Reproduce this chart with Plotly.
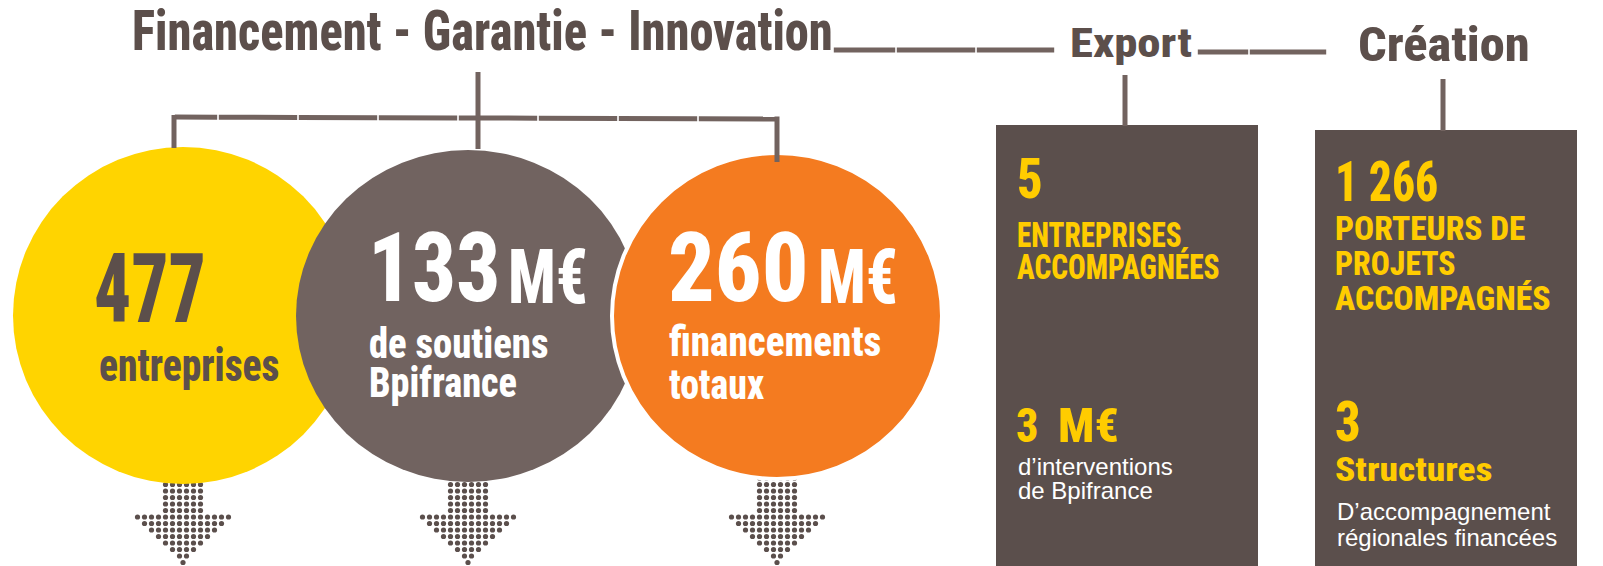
import json
import plotly.graph_objects as go

# ---------------- data ----------------
section_titles = ["Financement - Garantie - Innovation", "Export", "Création"]
circle_values = [477, 133, 260]
circle_units = ["", "M€", "M€"]
circle_labels = [["entreprises"], ["de soutiens", "Bpifrance"], ["financements", "totaux"]]
export_values = [5, 3]
export_units = ["", "M€"]
export_labels = [["ENTREPRISES", "ACCOMPAGNÉES"], ["d’interventions", "de Bpifrance"]]
creation_values = [1266, 3]
creation_labels = [["PORTEURS DE", "PROJETS", "ACCOMPAGNÉS"], ["Structures"]]
creation_sub = ["D’accompagnement", "régionales financées"]
arrow_rows = [14, 12, 10, 8, 6, 4, 2, 1]

# ---------------- styles ----------------
W, H = 1603, 566
COND = "Noto Sans ExtraCondensed, Noto Sans Condensed, Roboto Condensed, Noto Sans, sans-serif"
REG = "Liberation Sans, Arial, sans-serif"
DARK = "#5C4F4B"
LINE = "#72635F"
BOX = "#5B4F4C"
YEL = "#FFCC00"
circle_colors = ["#FFD400", "#716360", "#F47B20"]
circles = [(183, 315.5, 170, 168.5), (468, 316, 172, 166), (777, 316, 165, 163)]
circle_text_colors = [DARK, "white", "white"]

fig = go.Figure()
shapes = []
ann = []
xscale = []


def fmt(v, sep=" "):
    return f"{v:,}".replace(",", sep)


def text(x, baseline, s, size, color, family=COND, bold=True, sx=1.0):
    k = 0.388 if family == COND else 0.35
    ann.append(dict(x=x, y=baseline - k * size, xref="x", yref="y", text=s,
                    showarrow=False, xanchor="left", yanchor="middle", align="left",
                    font=dict(family=family, size=size, color=color,
                              weight=800 if bold else "normal")))
    xscale.append(sx)


# dotted arrows below circles
for (cx, cy, rx, ry) in circles:
    xs, ys = [], []
    sp, vs = 7.0, 6.5
    y = 478
    for r in range(6):
        for c in range(6):
            xs.append(cx + (c - 2.5) * sp)
            ys.append(y)
        y += vs
    for n in arrow_rows:
        for c in range(n):
            xs.append(cx + (c - (n - 1) / 2) * sp)
            ys.append(y)
        y += vs
    fig.add_trace(go.Scatter(x=xs, y=ys, mode="markers",
                             marker=dict(size=5.2, color=BOX, line=dict(width=0)),
                             hoverinfo="skip", showlegend=False))

# circles
for i, (cx, cy, rx, ry) in enumerate(circles):
    shapes.append(dict(type="circle", xref="x", yref="y", layer="above",
                       x0=cx - rx, x1=cx + rx, y0=cy - ry, y1=cy + ry,
                       fillcolor=circle_colors[i],
                       line=dict(color="white", width=4 if i == 2 else 0)))

# boxes
boxes = [(996, 1258, 125), (1315, 1577, 130)]
for (x0, x1, y0) in boxes:
    shapes.append(dict(type="rect", xref="x", yref="y", layer="above",
                       x0=x0, x1=x1, y0=y0, y1=H + 10, fillcolor=BOX, line=dict(width=0)))


def seg_line(pts_x, y0, y1):
    for a, b in zip(pts_x[:-1], pts_x[1:]):
        t0 = (a - pts_x[0]) / (pts_x[-1] - pts_x[0])
        t1 = (b - pts_x[0]) / (pts_x[-1] - pts_x[0])
        shapes.append(dict(type="line", xref="x", yref="y", layer="above",
                           x0=a + 0.8, x1=b - 0.8,
                           y0=y0 + (y1 - y0) * t0, y1=y0 + (y1 - y0) * t1,
                           line=dict(color=LINE, width=5)))


def vline(x, y0, y1):
    shapes.append(dict(type="line", xref="x", yref="y", layer="above",
                       x0=x, x1=x, y0=y0, y1=y1, line=dict(color=LINE, width=5)))


seg_line([174, 218, 298, 378, 458, 538, 618, 698, 777], 117, 119)
vline(174, 115, 148)
vline(478, 72, 149)
vline(777, 116.5, 162)
seg_line([833, 896, 976, 1055], 50, 50)
seg_line([1197, 1249, 1327], 52, 52)
vline(1125, 75, 126)
vline(1443, 79, 131)

# titles
text(130, 53, section_titles[0], 56, DARK, sx=0.865)
text(1068, 59, section_titles[1], 40, DARK, sx=1.17)
text(1356, 63, section_titles[2], 48, DARK, sx=1.05)

# circle texts
val_x = [92, 366, 666]
val_sx = [0.755, 0.895, 0.95]
unit_x = [None, 506, 816]
lab_x = [97, 367, 667]
lab_size = [47, 42, 42]
lab_sx = [[0.84], [0.92, 0.91], [0.93, 0.90]]
lab_base = [[383], [360, 399], [358, 401]]
for i in range(3):
    col = circle_text_colors[i]
    text(val_x[i], 327 if i == 0 else 306, fmt(circle_values[i]), 97, col, sx=val_sx[i])
    if circle_units[i]:
        text(unit_x[i], 306, circle_units[i], 76, col, sx=0.83)
    for j, lab in enumerate(circle_labels[i]):
        text(lab_x[i], lab_base[i][j], lab, lab_size[i], col, sx=lab_sx[i][j])

# export box texts
text(1015, 200, fmt(export_values[0]), 55, YEL, sx=0.92)
text(1015, 249, export_labels[0][0], 35, YEL, sx=0.83)
text(1015, 281, export_labels[0][1], 35, YEL, sx=0.84)
text(1014, 445, fmt(export_values[1]), 49, YEL, sx=0.9)
text(1056, 445, export_units[1], 49, YEL, sx=0.98)
text(1016, 475, export_labels[1][0], 24, "white", family=REG, bold=False)
text(1016, 499, export_labels[1][1], 24, "white", family=REG, bold=False)

# creation box texts
text(1333, 203, fmt(creation_values[0]), 55, YEL, sx=0.83)
for lab, b, s in zip(creation_labels[0], [241, 276, 311], [0.98, 0.93, 0.99]):
    text(1333, b, lab, 34, YEL, sx=s)
text(1333, 443, fmt(creation_values[1]), 55, YEL, sx=0.92)
text(1333, 482, creation_labels[1][0], 34, YEL, sx=1.1)
text(1335, 520, creation_sub[0], 24, "white", family=REG, bold=False)
text(1335, 546, creation_sub[1], 24, "white", family=REG, bold=False)

fig.update_layout(
    width=W, height=H, margin=dict(l=0, r=0, t=0, b=0),
    paper_bgcolor="white", plot_bgcolor="white",
    xaxis=dict(range=[0, W], visible=False, fixedrange=True),
    yaxis=dict(range=[H, 0], visible=False, fixedrange=True),
    shapes=shapes, annotations=ann, showlegend=False,
)

post = """
document.body.style.margin='0';document.body.style.overflow='hidden';
var st=document.createElement('style');
st.textContent='text.annotation-text[style*="ExtraCondensed"]{font-stretch:62.5% !important;}';
document.head.appendChild(st);
document.querySelectorAll('text.annotation-text').forEach(function(t){
  if((t.style.fontFamily||'').indexOf('ExtraCondensed')>=0){t.style.fontStretch='62.5%';}
});
var SX = __SX__;
document.querySelectorAll('g.annotation').forEach(function(g){
  var i = +g.getAttribute('data-index');
  var s = SX[i];
  if(!s || s === 1) return;
  var t = g.querySelector('text.annotation-text');
  if(!t) return;
  var x = parseFloat(t.getAttribute('x')) || 0;
  t.setAttribute('transform','translate('+x+',0) scale('+s+',1) translate('+(-x)+',0)');
});
""".replace("__SX__", json.dumps(xscale))
fig.write_html("out.html", config={"displayModeBar": False}, post_script=post)
